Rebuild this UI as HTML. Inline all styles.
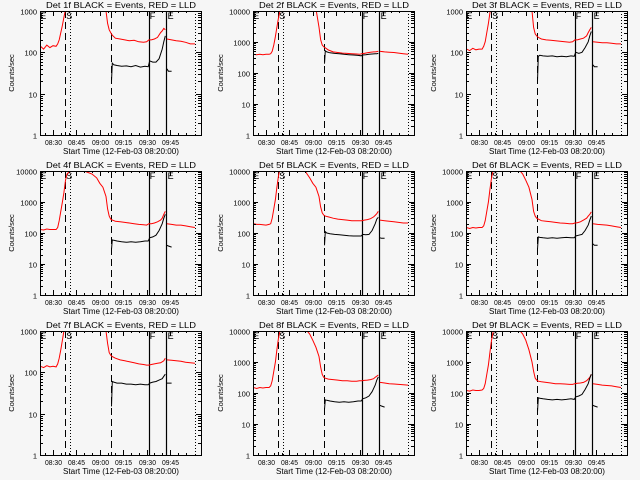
<!DOCTYPE html>
<html><head><meta charset="utf-8">
<style>
html,body{margin:0;padding:0;background:#f6f6f6;}
svg{display:block;}
text{font-family:"Liberation Sans",sans-serif;fill:#000;}
</style></head>
<body>
<svg id="fig" width="640" height="480" viewBox="0 0 640 480" xmlns="http://www.w3.org/2000/svg">
<rect x="0" y="0" width="640" height="480" fill="#f6f6f6"/>
</svg>
<script>
// minutes after 08:20:00
const redT = [2,4,6,8,10,12,13,14,15,16,17,18,19,20,25,30,35,38,40,42,44,45,46,47,48,50,53,56,59,62,65,68,70,71.5,73,75,77,79,80,81,82,82.5,83,86,89,92,95,98,101];
const blackT = [47.5,48,49,51,54,57,60,63,66,69,71,72,74,76,78,80,81,82,82.5,83,84,86];
const panelTitles = ["Det 1f","Det 2f","Det 3f","Det 4f","Det 5f","Det 6f","Det 7f","Det 8f","Det 9f"];
const yMaxes = [1000,10000,1000,10000,10000,10000,1000,10000,10000];
const red1 = [140,120,150,130,145,140,160,200,300,450,700,1100,3000,6000,10000,10000,10000,8000,5000,3000,1000,500,350,300,260,220,210,200,190,195,180,175,180,200,200,210,230,300,330,380,350,null,210,200,190,185,175,160,160];
const red2 = [400,390,400,390,400,400,420,500,800,1500,3000,6000,10000,12000,12000,12000,12000,12000,12000,12000,3000,1200,800,700,650,550,480,460,440,430,420,410,400,420,430,450,470,480,480,490,500,null,500,480,470,460,440,420,400];
const red3 = [120,110,125,115,120,120,140,180,300,500,900,1500,3000,6000,10000,10000,10000,10000,8000,3000,1000,400,280,250,230,210,200,195,190,185,180,175,180,200,200,210,220,250,300,350,400,null,180,175,170,170,165,160,160];
const red4 = [130,125,135,130,130,130,150,250,500,1000,2000,5000,8000,9000,12000,10000,8000,6000,4000,3000,1500,600,350,280,260,240,230,220,210,200,190,185,180,200,200,210,230,260,300,400,500,null,200,190,180,180,170,160,150];
const red5 = [200,190,190,185,180,190,200,300,600,1200,3000,7000,12000,12000,12000,12000,10000,6000,4000,3000,1500,700,450,380,350,330,300,280,270,260,250,250,250,250,260,270,290,330,370,420,500,null,260,250,240,230,220,210,210];
const red6 = [150,140,150,145,150,150,170,250,500,1000,2500,6000,10000,12000,12000,12000,12000,8000,5000,3000,1200,500,350,300,280,250,240,230,220,210,205,200,200,210,215,230,260,300,350,400,480,null,200,190,185,180,170,160,150];
const red7 = [140,130,145,135,140,135,160,220,350,600,1000,2000,5000,12000,12000,12000,12000,12000,9000,3000,1000,500,300,260,240,220,200,190,180,170,160,155,150,150,155,160,165,170,180,190,220,null,200,195,190,185,175,170,165];
const red8 = [150,140,150,145,150,150,170,250,500,1000,2500,6000,10000,12000,12000,12000,12000,8000,5000,3000,1500,700,400,320,300,280,270,260,250,250,240,240,250,250,255,260,270,290,320,350,380,null,220,210,200,195,190,185,180];
const red9 = [120,115,125,120,120,125,140,200,400,800,2000,5000,9000,12000,12000,12000,12000,8000,5000,2500,1000,500,300,260,240,230,220,210,200,200,195,190,190,200,205,210,220,250,280,320,400,null,200,190,180,175,170,160,150];
const black1 = [20,55,50,48,46,47,45,48,44,46,45,62,58,58,70,120,180,250,null,40,35,35];
const black2 = [200,520,480,450,430,420,400,390,380,370,360,380,390,400,410,420,420,430,null,null,null,null];
const black3 = [20,80,85,82,80,82,78,80,78,82,80,100,95,100,130,180,250,320,null,50,45,45];
const black4 = [30,60,58,55,52,50,52,50,52,55,55,70,75,85,120,200,300,400,null,40,38,35];
const black5 = [40,110,100,95,90,88,85,82,80,80,80,90,88,90,120,200,280,320,null,70,68,68];
const black6 = [30,75,72,70,68,70,68,70,72,70,70,80,85,90,120,180,260,350,null,45,40,40];
const black7 = [15,60,58,55,55,52,52,50,52,50,50,55,58,60,65,70,80,90,null,55,55,55];
const black8 = [30,60,58,55,52,50,52,50,52,55,55,65,70,80,110,180,260,330,null,40,38,35];
const black9 = [25,70,68,65,62,60,62,60,62,65,62,75,80,90,130,200,300,400,null,40,38,35];
const redSeries = [red1,red2,red3,red4,red5,red6,red7,red8,red9];
const blackSeries = [black1,black2,black3,black4,black5,black6,black7,black8,black9];
const xTickMinutes = [10,25,40,55,70,85];
const xTickLabels = ["08:30","08:45","09:00","09:15","09:30","09:45"];
const markerTimes = [17.7,20.9,47.2,71.5,82.4,101];
const markerStyles = ["dashed","dotted","dashed","solid","solid","dotted"];
const markerLetters = ["E","S","F","E"];
const markerLetterTimes = [1.8,18.5,72,83.5];

const NS = "http://www.w3.org/2000/svg";
const fig = document.getElementById("fig");
const X0 = 40, X1 = 201, Y0 = 11, Y1 = 135;
function xs(t){ return 53 + (t - 10) * 1.56; }
function mk(tag, attrs, parent){
  const e = document.createElementNS(NS, tag);
  for (const k in attrs) e.setAttribute(k, attrs[k]);
  parent.appendChild(e);
  return e;
}
function pathFrom(T, V, ys){
  let d = "", pen = false;
  for (let i = 0; i < T.length; i++){
    const v = V[i];
    if (v === null || v === undefined){ pen = false; continue; }
    d += (pen ? "L" : "M") + xs(T[i]).toFixed(1) + "," + ys(v).toFixed(1);
    pen = true;
  }
  return d;
}
for (let p = 0; p < 9; p++){
  const ox = (p % 3) * 213, oy = Math.floor(p / 3) * 160;
  const ymax = yMaxes[p];
  const dec = Math.round(Math.log10(ymax));
  const ys = v => Y1 - Math.log10(v) / dec * (Y1 - Y0);
  const g = mk("g", {transform: "translate(" + ox + "," + oy + ")"}, fig);
  
  
  const cid = "clip" + p;
  const cp = mk("clipPath", {id: cid}, g);
  mk("rect", {x: X0, y: Y0, width: X1 - X0, height: Y1 - Y0}, cp);
  const title = mk("text", {x: 121, y: 8, "font-size": "8", "text-anchor": "middle", textLength: "150", lengthAdjust: "spacingAndGlyphs"}, g);
  title.textContent = panelTitles[p] + " BLACK = Events, RED = LLD";
  
  
  const mg = mk("g", {"clip-path": "url(#" + cid + ")"}, g);
  
  
  for (let i = 0; i < markerTimes.length; i++){
    const x = Math.round(xs(markerTimes[i])) + 0.5;
    const a = {x1: x, x2: x, y1: Y0, y2: Y1, stroke: "#000", "stroke-width": markerStyles[i] === "solid" ? 1.2 : 1};
    if (markerStyles[i] === "dashed") a["stroke-dasharray"] = "7,4";
    if (markerStyles[i] === "dotted") a["stroke-dasharray"] = "1,2";
    mk("line", a, mg);
  }
  for (let i = 0; i < markerLetters.length; i++){
    const lt = mk("text", {x: xs(markerLetterTimes[i]), y: Y0 + 8, "font-size": "9"}, g);
    lt.textContent = markerLetters[i];
    
    
  }
  const sg = mk("g", {"clip-path": "url(#" + cid + ")", fill: "none"}, g);
  const rp = mk("path", {d: pathFrom(redT, redSeries[p], ys), stroke: "#ff0000", "stroke-width": 1}, sg);
  
  
  const bp = mk("path", {d: pathFrom(blackT, blackSeries[p], ys), stroke: "#000", "stroke-width": 1}, sg);
  
  
  const box = mk("rect", {x: X0 + 0.5, y: Y0 + 0.5, width: X1 - X0, height: Y1 - Y0, fill: "none", stroke: "#000", "stroke-width": 1}, g);
  
  
  const ag = mk("g", {stroke: "#000", "stroke-width": 1}, g);
  
  
  for (let d = 0; d <= dec; d++){
    const y = Math.round(ys(Math.pow(10, d))) + 0.5;
    mk("line", {x1: X0, x2: X0 + 5, y1: y, y2: y}, ag);
    mk("line", {x1: X1 - 5, x2: X1, y1: y, y2: y}, ag);
    const lab = mk("text", {x: 37, y: y + 3, "font-size": "7.5", "text-anchor": "end", stroke: "none"}, g);
    lab.textContent = String(Math.pow(10, d));
    
    
    if (d < dec){
      for (let m = 2; m <= 9; m++){
        const ym = Math.round(ys(m * Math.pow(10, d))) + 0.5;
        mk("line", {x1: X0, x2: X0 + 3, y1: ym, y2: ym}, ag);
        mk("line", {x1: X1 - 3, x2: X1, y1: ym, y2: ym}, ag);
      }
    }
  }
  for (let i = 0; i < xTickMinutes.length; i++){
    const x = Math.round(xs(xTickMinutes[i])) + 0.5;
    mk("line", {x1: x, x2: x, y1: Y1, y2: Y1 - 5}, ag);
    mk("line", {x1: x, x2: x, y1: Y0, y2: Y0 + 5}, ag);
    const lab = mk("text", {x: x, y: 145, "font-size": "7", "text-anchor": "middle", stroke: "none", textLength: "17", lengthAdjust: "spacingAndGlyphs"}, g);
    lab.textContent = xTickLabels[i];
    
    
  }
  for (let t = 5; t < 105; t += 5){
    if ((t - 10) % 15 === 0) continue;
    const x = Math.round(xs(t)) + 0.5;
    if (x <= X0 || x >= X1) continue;
    mk("line", {x1: x, x2: x, y1: Y1, y2: Y1 - 2}, ag);
    mk("line", {x1: x, x2: x, y1: Y0, y2: Y0 + 2}, ag);
  }
  const xt = mk("text", {x: 121, y: 154, "font-size": "8", "text-anchor": "middle", textLength: "116", lengthAdjust: "spacingAndGlyphs"}, g);
  xt.textContent = "Start Time (12-Feb-03 08:20:00)";
  
  
  const yt = mk("text", {x: 0, y: 0, "font-size": "7.5", "text-anchor": "middle", transform: "translate(" + (p % 3 === 0 ? 14 : 10) + ",73) rotate(-90)"}, g);
  yt.textContent = "Counts/sec";
  
  
}
</script>
</body></html>
